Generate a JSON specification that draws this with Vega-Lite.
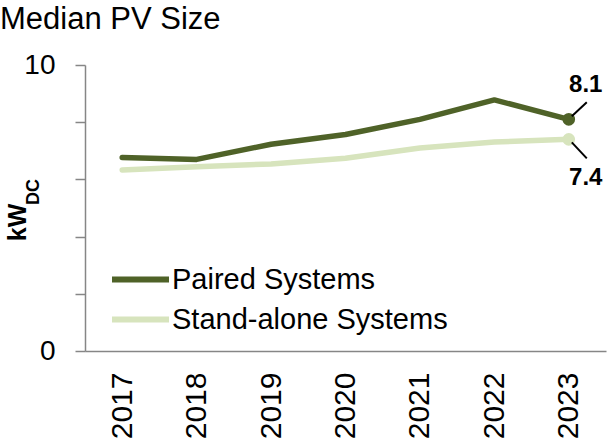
{
  "$schema": "https://vega.github.io/schema/vega-lite/v6.json",
  "width": 521,
  "height": 286,
  "autosize": {"type": "none"},
  "padding": {"left": 85, "top": 65, "right": 1, "bottom": 95},
  "background": "white",
  "config": {"view": {"stroke": null}, "font": "Liberation Sans"},
  "title": {"text": "Median PV Size", "anchor": "start", "frame": "group", "dx": -85, "fontSize": 31, "fontWeight": "normal", "color": "#000000", "offset": 15},
  "datasets": {
    "pv": [
      {"year": 2017, "series": "Paired Systems", "kw": 6.77},
      {"year": 2018, "series": "Paired Systems", "kw": 6.70},
      {"year": 2019, "series": "Paired Systems", "kw": 7.23},
      {"year": 2020, "series": "Paired Systems", "kw": 7.57},
      {"year": 2021, "series": "Paired Systems", "kw": 8.10},
      {"year": 2022, "series": "Paired Systems", "kw": 8.78},
      {"year": 2023, "series": "Paired Systems", "kw": 8.10},
      {"year": 2017, "series": "Stand-alone Systems", "kw": 6.33},
      {"year": 2018, "series": "Stand-alone Systems", "kw": 6.44},
      {"year": 2019, "series": "Stand-alone Systems", "kw": 6.54},
      {"year": 2020, "series": "Stand-alone Systems", "kw": 6.74},
      {"year": 2021, "series": "Stand-alone Systems", "kw": 7.10},
      {"year": 2022, "series": "Stand-alone Systems", "kw": 7.31},
      {"year": 2023, "series": "Stand-alone Systems", "kw": 7.40}
    ]
  },
  "data": {"name": "pv"},
  "layer": [
    {
      "mark": {"type": "line", "strokeWidth": 5.5, "strokeJoin": "round", "strokeCap": "round"},
      "encoding": {
        "x": {
          "field": "year", "type": "quantitative",
          "scale": {"domain": [2016.5, 2023.5], "nice": false, "zero": false},
          "axis": {
            "values": [2017, 2018, 2019, 2020, 2021, 2022, 2023], "format": "d", "title": null,
            "labelAngle": 270, "labelAlign": "right", "labelBaseline": "middle",
            "labelFontSize": 30, "labelColor": "#000000", "labelPadding": 21,
            "ticks": false, "grid": false, "domainColor": "#868686", "domainWidth": 1.5
          }
        },
        "y": {
          "field": "kw", "type": "quantitative",
          "scale": {"domain": [0, 10], "nice": false},
          "axis": {
            "values": [0, 2, 4, 6, 8, 10],
            "labelExpr": "datum.value == 0 || datum.value == 10 ? datum.label : ''",
            "labelFontSize": 28, "labelColor": "#000000", "labelPadding": 20,
            "tickSize": 10, "tickColor": "#868686", "tickWidth": 1.5,
            "domainColor": "#868686", "domainWidth": 1.5, "grid": false,
            "title": "kW", "titleFontSize": 25, "titleFontWeight": "bold", "titleColor": "#000000",
            "titleAngle": 270, "titleX": -60, "titleY": 157, "titleAlign": "center", "titleBaseline": "alphabetic"
          }
        },
        "color": {
          "field": "series", "type": "nominal",
          "scale": {"domain": ["Paired Systems", "Stand-alone Systems"], "range": ["#4F6228", "#D7E4BD"]},
          "legend": {
            "title": null, "orient": "none", "legendX": 41, "legendY": 200,
            "symbolType": "M-3,0H3", "symbolSize": 361, "symbolStrokeWidth": 6,
            "labelFontSize": 29, "labelColor": "#000000", "labelOffset": 17, "labelLimit": 0,
            "rowPadding": 10, "padding": 0
          }
        }
      }
    },
    {
      "transform": [{"filter": "datum.year == 2023"}],
      "mark": {"type": "point", "filled": true, "size": 160, "opacity": 1},
      "encoding": {
        "x": {"field": "year", "type": "quantitative"},
        "y": {"field": "kw", "type": "quantitative"},
        "color": {"field": "series", "type": "nominal", "legend": null}
      }
    },
    {
      "transform": [{"filter": "datum.year == 2023 && datum.series == 'Paired Systems'"}],
      "mark": {"type": "rule", "color": "#000000", "strokeWidth": 2, "xOffset": 3, "yOffset": -3, "x2Offset": 18, "y2Offset": -17},
      "encoding": {
        "x": {"field": "year", "type": "quantitative"},
        "y": {"field": "kw", "type": "quantitative"},
        "x2": {"field": "year"},
        "y2": {"field": "kw"}
      }
    },
    {
      "transform": [{"filter": "datum.year == 2023 && datum.series == 'Stand-alone Systems'"}],
      "mark": {"type": "rule", "color": "#000000", "strokeWidth": 2, "xOffset": 3, "yOffset": 3, "x2Offset": 18, "y2Offset": 19},
      "encoding": {
        "x": {"field": "year", "type": "quantitative"},
        "y": {"field": "kw", "type": "quantitative"},
        "x2": {"field": "year"},
        "y2": {"field": "kw"}
      }
    },
    {
      "transform": [{"filter": "datum.year == 2023 && datum.series == 'Paired Systems'"}],
      "mark": {"type": "text", "fontSize": 24, "fontWeight": "bold", "color": "#000000", "align": "center", "baseline": "alphabetic", "dx": 17, "dy": -27},
      "encoding": {
        "x": {"field": "year", "type": "quantitative"},
        "y": {"field": "kw", "type": "quantitative"},
        "text": {"field": "kw", "type": "quantitative", "format": ".1f"}
      }
    },
    {
      "transform": [{"filter": "datum.year == 2023 && datum.series == 'Stand-alone Systems'"}],
      "mark": {"type": "text", "fontSize": 24, "fontWeight": "bold", "color": "#000000", "align": "center", "baseline": "alphabetic", "dx": 17, "dy": 46},
      "encoding": {
        "x": {"field": "year", "type": "quantitative"},
        "y": {"field": "kw", "type": "quantitative"},
        "text": {"field": "kw", "type": "quantitative", "format": ".1f"}
      }
    },
    {
      "data": {"values": [{"sub": "DC"}]},
      "mark": {"type": "text", "angle": 270, "fontSize": 18, "fontWeight": "bold", "color": "#000000", "align": "center", "baseline": "alphabetic", "dx": -127, "dy": -46, "clip": false},
      "encoding": {
        "x": {"datum": 2016.5, "type": "quantitative"},
        "y": {"datum": 10, "type": "quantitative"},
        "text": {"field": "sub", "type": "nominal"}
      }
    }
  ]
}
